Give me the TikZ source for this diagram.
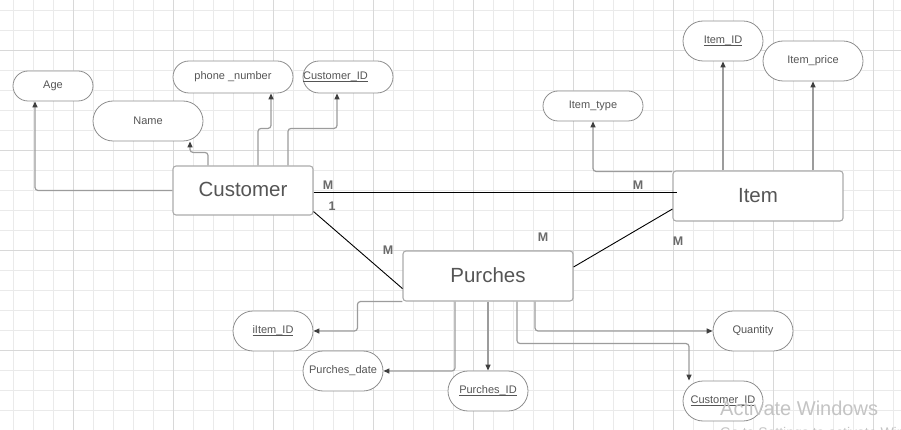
\documentclass[tikz,border=0pt]{standalone}
\usepackage{fontspec}
\setmainfont{Liberation Sans}
\usetikzlibrary{arrows.meta}
\definecolor{gridminor}{HTML}{EAEAEA}
\definecolor{gridmajor}{HTML}{D8D8D8}
\definecolor{txtc}{HTML}{555555}
\definecolor{boxc}{HTML}{ABABAB}
\definecolor{ovalc}{HTML}{8E8E8E}
\definecolor{connc}{HTML}{9C9C9C}
\definecolor{tipc}{HTML}{3F3F3F}
\definecolor{cardc}{HTML}{6A6A6A}
\definecolor{wmc}{HTML}{C4C4C4}
\newcommand\ulkey[1]{\begingroup\setbox0\hbox{#1}\rlap{\rule[-1.7pt]{\wd0}{0.6pt}}\box0\endgroup}
\tikzset{
  entity/.style={draw=boxc, line width=1.1pt, rounded corners=3pt, fill=white, text=txtc,
    font=\fontsize{20.5}{24}\selectfont, inner sep=0pt},
  attr/.style={draw=ovalc, line width=0.8pt, fill=white, text=txtc,
    font=\fontsize{11}{13}\selectfont, inner sep=0pt},
  conn/.style={draw=connc, line width=1.2pt, rounded corners=3pt,
    -{Triangle[length=6pt,width=5pt,color=tipc]}},
  rel/.style={draw=black, line width=0.9pt},
  card/.style={text=cardc, font=\bfseries\fontsize{12.5}{14}\selectfont, inner sep=0pt},
  wm/.style={text=wmc, inner sep=0pt}
}
\begin{document}
\begin{tikzpicture}[x=1pt,y=-1pt]
\useasboundingbox (0,0) rectangle (901,430);
\clip (0,0) rectangle (901,430);
\fill[white] (0,0) rectangle (901,430);
% grid
\foreach \x in {13,33,...,893} \draw[gridminor, line width=0.8pt] (\x,0) -- (\x,430);
\foreach \y in {10,30,...,430} \draw[gridminor, line width=0.8pt] (0,\y) -- (901,\y);
\foreach \x in {73,173,...,873} \draw[gridmajor, line width=0.8pt] (\x,0) -- (\x,430);
\foreach \y in {50,150,250,350} \draw[gridmajor, line width=0.8pt] (0,\y) -- (901,\y);

% entities
\node[entity, minimum width=140pt, minimum height=49pt] (cust) at (243,190.5) {\raisebox{1.5pt}{Customer}};
\node[entity, minimum width=170pt, minimum height=50pt] (item) at (758,196) {\raisebox{1.5pt}{Item}};
\node[entity, minimum width=170pt, minimum height=50pt] (pur) at (488,276) {\raisebox{1.5pt}{Purches}};

% attributes
\node[attr, rounded corners=15pt, minimum width=80pt, minimum height=30pt] (age) at (53,86) {Age};
\node[attr, rounded corners=20pt, minimum width=110pt, minimum height=40pt] (name) at (148,121) {\raisebox{1pt}{Name}};
\node[attr, rounded corners=16pt, minimum width=120pt, minimum height=32pt] (phone) at (233,77) {phone \_number};
\node[attr, rounded corners=16pt, minimum width=90pt, minimum height=32pt] (custid) at (348,77) {\kern-25pt\ulkey{Customer\_ID}};
\node[attr, rounded corners=15pt, minimum width=100pt, minimum height=30pt] (itype) at (593,106) {Item\_type};
\node[attr, rounded corners=20pt, minimum width=80pt, minimum height=40pt] (iid) at (723,41) {\raisebox{1pt}{\ulkey{Item\_ID}}};
\node[attr, rounded corners=20pt, minimum width=100pt, minimum height=40pt] (iprice) at (813,61) {Item\_price};
\node[attr, rounded corners=20pt, minimum width=80pt, minimum height=40pt] (iitem) at (273,331) {\ulkey{iItem\_ID}};
\node[attr, rounded corners=20pt, minimum width=80pt, minimum height=40pt] (pdate) at (343,371) {Purches\_date};
\node[attr, rounded corners=20pt, minimum width=80pt, minimum height=40pt] (pid) at (488,391) {\ulkey{Purches\_ID}};
\node[attr, rounded corners=20pt, minimum width=80pt, minimum height=40pt] (qty) at (753,331) {Quantity};
\node[attr, rounded corners=20pt, minimum width=80pt, minimum height=40pt] (cid2) at (723,401) {\ulkey{Customer\_ID}};

% customer attribute connectors
\draw[conn] (cust.west) -| ([xshift=-18pt]age.south);
\draw[conn] ([xshift=-35pt]cust.north) -- ++(0,-13) -| ([xshift=42pt]name.south);
\draw[conn] ([xshift=15pt]cust.north) -- ++(0,-37) -| ([xshift=38pt]phone.south);
\draw[conn] ([xshift=45pt]cust.north) -- ++(0,-37) -| ([xshift=-11pt]custid.south);

% item attribute connectors
\draw[conn] ([yshift=-1pt]item.north west) -| (itype.south);
\draw[conn] ([xshift=-35pt]item.north) -- (iid.south);
\draw[conn] ([xshift=55pt]item.north) -- (iprice.south);

% purches attribute connectors
\draw[conn] (pur.south west) -- ++(-45,0) |- (iitem.east);
\draw[conn] ([xshift=-33pt]pur.south) |- (pdate.east);
\draw[conn] (pur.south) -- (pid.north);
\draw[conn] ([xshift=47pt]pur.south) |- (qty.west);
\draw[conn] ([xshift=29pt]pur.south) -- ++(0,42) -| ([xshift=-34pt]cid2.north);

% relationships
\draw[rel] ([yshift=-1.5pt]cust.east) -- ([xshift=5pt,yshift=4pt]item.west);
\draw[rel] ([yshift=4pt]cust.south east) -- ([yshift=13pt]pur.south west);
\draw[rel] ([yshift=9pt]pur.east) -- ([yshift=-13pt]item.west);

% cardinalities
\node[card] (c1) at (328,185) {M};
\node[card] (c2) at (332,206) {1};
\node[card] (c3) at (638,185) {M};
\node[card] (c4) at (388,250) {M};
\node[card] (c5) at (543,237) {M};
\node[card] (c6) at (678,241) {M};

% watermark
\node[wm, anchor=base west, font=\fontsize{20}{24}\selectfont] (wm1) at (720,415) {Activate Windows};
\node[wm, anchor=base west, font=\fontsize{14}{16}\selectfont] (wm2) at (720,437) {Go to Settings to activate Windows.};
\end{tikzpicture}
\end{document}
